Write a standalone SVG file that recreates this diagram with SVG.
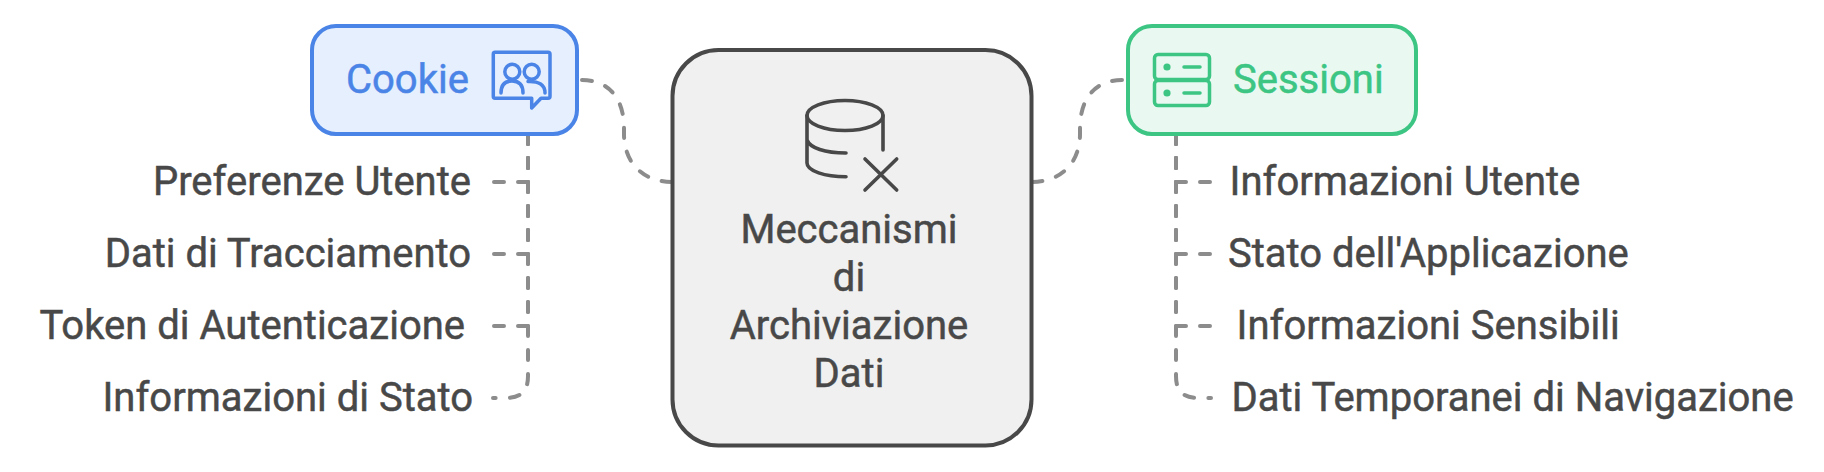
<svg xmlns="http://www.w3.org/2000/svg" width="1824" height="472" viewBox="0 0 1824 472">
<style>
text{font-family:Roboto,"Liberation Sans",sans-serif;font-size:40px;fill:#484848;stroke:#484848;stroke-width:.5}
.c{text-anchor:middle}
.b{fill:none;stroke:#4a84e6;stroke-width:3.5;stroke-linecap:round;stroke-linejoin:round}
.g{fill:none;stroke:#3cc583;stroke-width:3.5;stroke-linecap:round;stroke-linejoin:round}
.k{fill:none;stroke:#484848;stroke-width:3.6;stroke-linecap:round;stroke-linejoin:round}
#connectors path{fill:none;stroke:#8c8c8c;stroke-width:4;stroke-linecap:round;stroke-dasharray:10 14}
</style>
<rect width="1824" height="472" fill="#fff"/>
<g id="connectors">
<path d="M582 80C610 80 624 100 624 128V134C624 160 640 182 673 182"/>
<path d="M1122 80C1094 80 1080 100 1080 128V134C1080 160 1064 182 1031 182"/>
<path d="M494 182H528V134"/>
<path d="M494 254H528V134"/>
<path d="M494 326H528V134"/>
<path d="M528 134V376C528 391 521 398 506 398H493"/>
<path d="M1210 182H1176V134"/>
<path d="M1210 254H1176V134"/>
<path d="M1210 326H1176V134"/>
<path d="M1176 134V376C1176 391 1183 398 1198 398H1211"/>
</g>
<g id="center">
<rect x="672.5" y="50" width="359" height="395.5" rx="46" fill="#f0f0f0" stroke="#484848" stroke-width="4"/>
<ellipse class="k" cx="845" cy="115.5" rx="38" ry="15"/>
<path class="k" d="M807 115.5V163C807 171 825 176.7 846 176.7M807 140C810 148 825 153 846 153M883 115.5V150M865 159L896.7 190M896.7 159L865 190"/>
<text class="c" x="849" y="243">Meccanismi</text>
<text class="c" x="849" y="291">di</text>
<text class="c" x="849" y="339">Archiviazione</text>
<text class="c" x="849" y="387">Dati</text>
</g>
<g id="cookie">
<rect x="312" y="26" width="265" height="108" rx="24" fill="#e5effe" stroke="#4a84e6" stroke-width="4"/>
<text x="346" y="92.5" style="fill:#4a84e6;stroke:#4a84e6">Cookie</text>
<path class="b" d="M495 52.3H548Q550 52.3 550 54.3V96.3Q550 98.3 548 98.3H541L531.7 108V98.3H495Q493.3 98.3 493.3 96.3V54.3Q493.3 52.3 495 52.3Z"/>
<circle class="b" cx="512.3" cy="71.7" r="7.5"/>
<circle class="b" cx="531.7" cy="71.7" r="7.5"/>
<path class="b" d="M501 93C501 85 505 81 512 81C519 81 523 85 523 93M528 81.5C539 81 545 85 545 93"/>
</g>
<g id="sessioni">
<rect x="1128" y="26" width="288" height="108" rx="24" fill="#e9f9f2" stroke="#3cc583" stroke-width="4"/>
<rect class="g" x="1154.5" y="54.5" width="55" height="25" rx="3.5"/>
<rect class="g" x="1154.5" y="80.5" width="55" height="25" rx="3.5"/>
<circle cx="1167" cy="67" r="3.6" fill="#3cc583"/>
<circle cx="1167" cy="93" r="3.6" fill="#3cc583"/>
<path class="g" d="M1184 67H1200M1184 93H1200"/>
<text x="1233" y="92.5" style="fill:#3cc583;stroke:#3cc583">Sessioni</text>
</g>
<g id="cookie-items">
<text x="471" y="195" text-anchor="end">Preferenze Utente</text>
<text x="471" y="267" text-anchor="end">Dati di Tracciamento</text>
<text x="465" y="339" text-anchor="end">Token di Autenticazione</text>
<text x="473" y="411" text-anchor="end">Informazioni di Stato</text>
</g>
<g id="sessioni-items">
<text x="1229.5" y="195">Informazioni Utente</text>
<text x="1228" y="267">Stato dell'Applicazione</text>
<text x="1236.5" y="339">Informazioni Sensibili</text>
<text x="1231.5" y="411">Dati Temporanei di Navigazione</text>
</g>
</svg>
